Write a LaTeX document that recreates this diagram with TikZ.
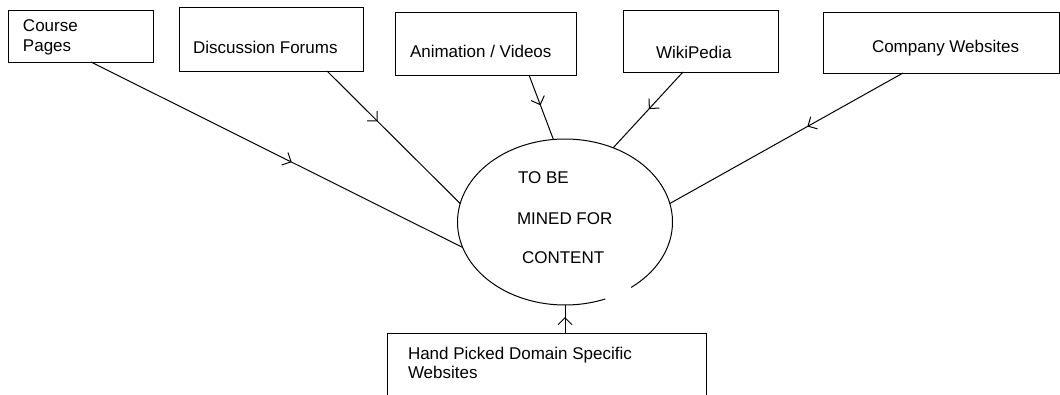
\documentclass[tikz,border=0pt]{standalone}
\usepackage{fontspec}
\setmainfont{Liberation Sans}
\usetikzlibrary{shapes.geometric,arrows.meta,decorations.markings,calc}

\tikzset{
  box/.style={draw, line width=1pt, inner sep=0pt, outer sep=0pt},
  lbl/.style={inner sep=0pt, outer sep=0pt, font=\fontsize{17}{20}\selectfont, anchor=base west},
  flow/.style={line width=1pt, postaction={decorate},
    decoration={markings, mark=at position #1 with {\arrow[line width=1pt]{Straight Barb[length=7pt,width=14pt]}}}}
}

\begin{document}
\begin{tikzpicture}[x=1pt,y=1pt]
  \clip (0,0) rectangle (1060,-394);
  \fill[white] (0,0) rectangle (1060,-394);

  % source boxes
  \node[box, minimum width=145pt, minimum height=52pt] (course) at (80.5,-36) {};
  \node[inner sep=0pt, outer sep=0pt, anchor=north west, align=left,
        font=\fontsize{17}{20}\selectfont] (courseT) at (23,-19.5) {Course\\Pages};

  \node[box, minimum width=184pt, minimum height=64pt] (disc) at (271,-39) {};
  \node[lbl] (discT) at (193,-53) {Discussion Forums};

  \node[box, minimum width=181pt, minimum height=63pt] (anim) at (485.5,-43.5) {};
  \node[lbl] (animT) at (410,-57) {Animation / Videos};

  \node[box, minimum width=155pt, minimum height=62pt] (wiki) at (700.5,-41) {};
  \node[lbl] (wikiT) at (656,-58) {WikiPedia};

  \node[box, minimum width=236pt, minimum height=61pt] (comp) at (941,-42.5) {};
  \node[lbl] (compT) at (872,-52) {Company Websites};

  \node[box, minimum width=319pt, minimum height=87pt] (hand) at (546.5,-376.5) {};
  \node[inner sep=0pt, outer sep=0pt, anchor=north west, align=left,
        font=\fontsize{17}{18.5}\selectfont] (handT) at (408,-347.5) {Hand Picked Domain Specific\\Websites};

  % central ellipse (outline drawn separately, with its small break)
  \node[ellipse, minimum width=215pt, minimum height=166pt, inner sep=0pt, outer sep=0pt] (mined) at (565,-222) {};
  \draw[line width=1pt] ([shift={(-52:107.5pt and 83pt)}]mined.center)
    arc[start angle=-52, end angle=292, x radius=107.5pt, y radius=83pt];
  \node[lbl] (m1) at (518,-183) {TO BE};
  \node[lbl] (m2) at (517,-224) {MINED FOR};
  \node[lbl] (m3) at (522,-263) {CONTENT};

  % connectors
  \draw[flow=0.54] ([xshift=10.5pt]course.south) -- (mined.194);
  \draw[flow=0.38] ([xshift=56pt]disc.south) -- (mined.170);
  \draw[flow=0.47] ([xshift=43.5pt]anim.south) -- (mined.98);
  \draw[flow=0.49] ([xshift=-17.5pt]wiki.south) -- (mined.57);
  \draw[flow=0.41] ([xshift=-38pt]comp.south) -- (mined.10);
  \draw[flow=0.57] (mined.south |- hand.north) -- (mined.south);
\end{tikzpicture}
\end{document}
